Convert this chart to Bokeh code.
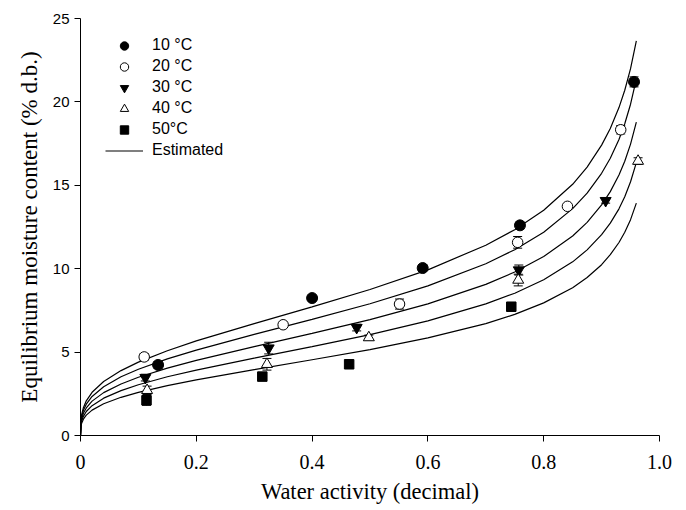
from bokeh.plotting import figure
from bokeh.models import (ColumnDataSource, Whisker, TeeHead, Legend, LegendItem,
                          FixedTicker, Range1d)
from bokeh.embed import file_html
from bokeh.resources import INLINE

# ---- data ----
aw10 = [0.134, 0.400, 0.591, 0.759, 0.956]
m10 = [4.23, 8.24, 10.04, 12.60, 21.20]
e10 = [0.20, 0.15, 0.20, 0.20, 0.30]

aw20 = [0.110, 0.350, 0.551, 0.755, 0.841, 0.933]
m20 = [4.71, 6.64, 7.88, 11.58, 13.74, 18.33]
e20 = [0.20, 0.10, 0.30, 0.35, 0.10, 0.25]

aw30 = [0.112, 0.325, 0.477, 0.757, 0.907]
m30 = [3.47, 5.24, 6.47, 9.92, 14.08]
e30 = [0.20, 0.35, 0.20, 0.30, 0.15]

aw40 = [0.115, 0.322, 0.498, 0.756, 0.963]
m40 = [2.71, 4.27, 5.87, 9.32, 16.45]
e40 = [0.25, 0.35, 0.15, 0.35, 0.20]

aw50 = [0.114, 0.314, 0.464, 0.744]
m50 = [2.11, 3.53, 4.27, 7.72]
e50 = [0.30, 0.20, 0.15, 0.15]

# estimated curves
aw_fit = [0, 0.001, 0.002, 0.005, 0.01, 0.02, 0.04, 0.07, 0.1, 0.15, 0.2, 0.3, 0.4,
          0.5, 0.6, 0.7, 0.75, 0.8, 0.85, 0.875, 0.9, 0.915, 0.93, 0.94, 0.95, 0.96]
fit10 = [0, 1.01, 1.25, 1.67, 2.08, 2.59, 3.24, 3.89, 4.40, 5.08, 5.67, 6.71, 7.71,
         8.75, 9.93, 11.41, 12.34, 13.50, 15.06, 16.09, 17.41, 18.41, 19.66, 20.70, 21.99, 23.66]
fit20 = [0, 0.91, 1.13, 1.51, 1.88, 2.34, 2.92, 3.52, 3.97, 4.59, 5.12, 6.06, 6.96,
         7.90, 8.97, 10.30, 11.14, 12.19, 13.60, 14.53, 15.72, 16.62, 17.75, 18.69, 19.86, 21.36]
fit30 = [0, 0.80, 0.99, 1.33, 1.65, 2.06, 2.57, 3.09, 3.49, 4.04, 4.50, 5.33, 6.12,
         6.95, 7.89, 9.06, 9.80, 10.73, 11.96, 12.78, 13.83, 14.62, 15.62, 16.44, 17.47, 18.79]
fit40 = [0, 0.70, 0.87, 1.15, 1.44, 1.79, 2.24, 2.69, 3.04, 3.52, 3.92, 4.64, 5.33,
         6.05, 6.87, 7.89, 8.53, 9.34, 10.41, 11.13, 12.04, 12.73, 13.59, 14.31, 15.21, 16.36]
fit50 = [0, 0.59, 0.74, 0.98, 1.22, 1.52, 1.90, 2.29, 2.59, 2.99, 3.34, 3.95, 4.54,
         5.15, 5.85, 6.71, 7.26, 7.95, 8.86, 9.47, 10.24, 10.84, 11.57, 12.19, 12.94, 13.93]

x_ticks = [0, 0.2, 0.4, 0.6, 0.8, 1.0]
x_tick_labels = ["0", "0.2", "0.4", "0.6", "0.8", "1.0"]
y_ticks = [0, 5, 10, 15, 20, 25]

labels = ["10 \u00b0C", "20 \u00b0C", "30 \u00b0C", "40 \u00b0C", "50\u00b0C"]

p = figure(width=686, height=510, output_backend="svg", toolbar_location=None,
           x_range=Range1d(0, 1.0), y_range=Range1d(0, 25),
           min_border_left=80, min_border_right=27, min_border_top=18, min_border_bottom=75)
p.outline_line_color = None
p.xgrid.visible = False
p.ygrid.visible = False
p.background_fill_color = "white"
p.border_fill_color = "white"

# axes
p.xaxis.ticker = FixedTicker(ticks=x_ticks)
p.xaxis.major_label_overrides = {t: l for t, l in zip(x_ticks, x_tick_labels)}
p.yaxis.ticker = FixedTicker(ticks=y_ticks)
for ax in (p.xaxis, p.yaxis):
    ax.axis_line_color = "black"
    ax.axis_line_width = 1
    ax.major_tick_line_color = "black"
    ax.major_tick_in = 0
    ax.major_tick_out = 6
    ax.minor_tick_line_color = None
    ax.major_label_text_color = "black"
    ax.axis_label_text_color = "black"
    ax.axis_label_text_font = "Liberation Serif"
    ax.axis_label_text_font_style = "normal"

p.xaxis.major_label_text_font = "Liberation Serif"
p.xaxis.major_label_text_font_size = "20px"
p.xaxis.major_label_standoff = 13
p.xaxis.axis_label = "Water activity (decimal)"
p.xaxis.axis_label_text_font_size = "22.5px"
p.xaxis.axis_label_standoff = 7

p.yaxis.major_label_text_font = "Liberation Sans"
p.yaxis.major_label_text_font_size = "15px"
p.yaxis.major_label_standoff = 5
p.yaxis.axis_label = "Equilibrium moisture content (% d.b.)"
p.yaxis.axis_label_text_font_size = "23px"
p.yaxis.axis_label_standoff = 8

# estimated curves
line_r = None
for fy in (fit10, fit20, fit30, fit40, fit50):
    r = p.line(aw_fit, fy, line_color="black", line_width=1.2)
    if line_r is None:
        line_r = r

# data with error bars
series = [
    (aw10, m10, e10, "circle", "black", 11),
    (aw20, m20, e20, "circle", "white", 10.5),
    (aw30, m30, e30, "inverted_triangle", "black", 11),
    (aw40, m40, e40, "triangle", "white", 11),
    (aw50, m50, e50, "square", "black", 9.5),
]
items = []
for (xs, ys, es, mk, fc, sz), lab in zip(series, labels):
    src = ColumnDataSource(dict(x=xs, y=ys,
                                upper=[y + e for y, e in zip(ys, es)],
                                lower=[y - e for y, e in zip(ys, es)]))
    w = Whisker(source=src, base="x", upper="upper", lower="lower", dimension="height",
                line_color="black", line_width=1,
                upper_head=TeeHead(size=9, line_color="black", line_width=1),
                lower_head=TeeHead(size=9, line_color="black", line_width=1))
    p.add_layout(w)
    r = p.scatter("x", "y", source=src, marker=mk, size=sz, fill_color=fc,
                  line_color="black", line_width=1)
    items.append(LegendItem(label=lab, renderers=[r]))
items.append(LegendItem(label="Estimated", renderers=[line_r]))

legend = Legend(items=items, location=(25, 274.5), orientation="vertical",
                glyph_width=38, glyph_height=21, label_height=21, spacing=0,
                label_standoff=9, padding=0, margin=0,
                border_line_color=None, background_fill_alpha=0,
                label_text_font="Liberation Sans", label_text_font_size="16px",
                label_text_color="black")
p.add_layout(legend, "center")

open("out.html", "w").write(file_html(p, INLINE))
